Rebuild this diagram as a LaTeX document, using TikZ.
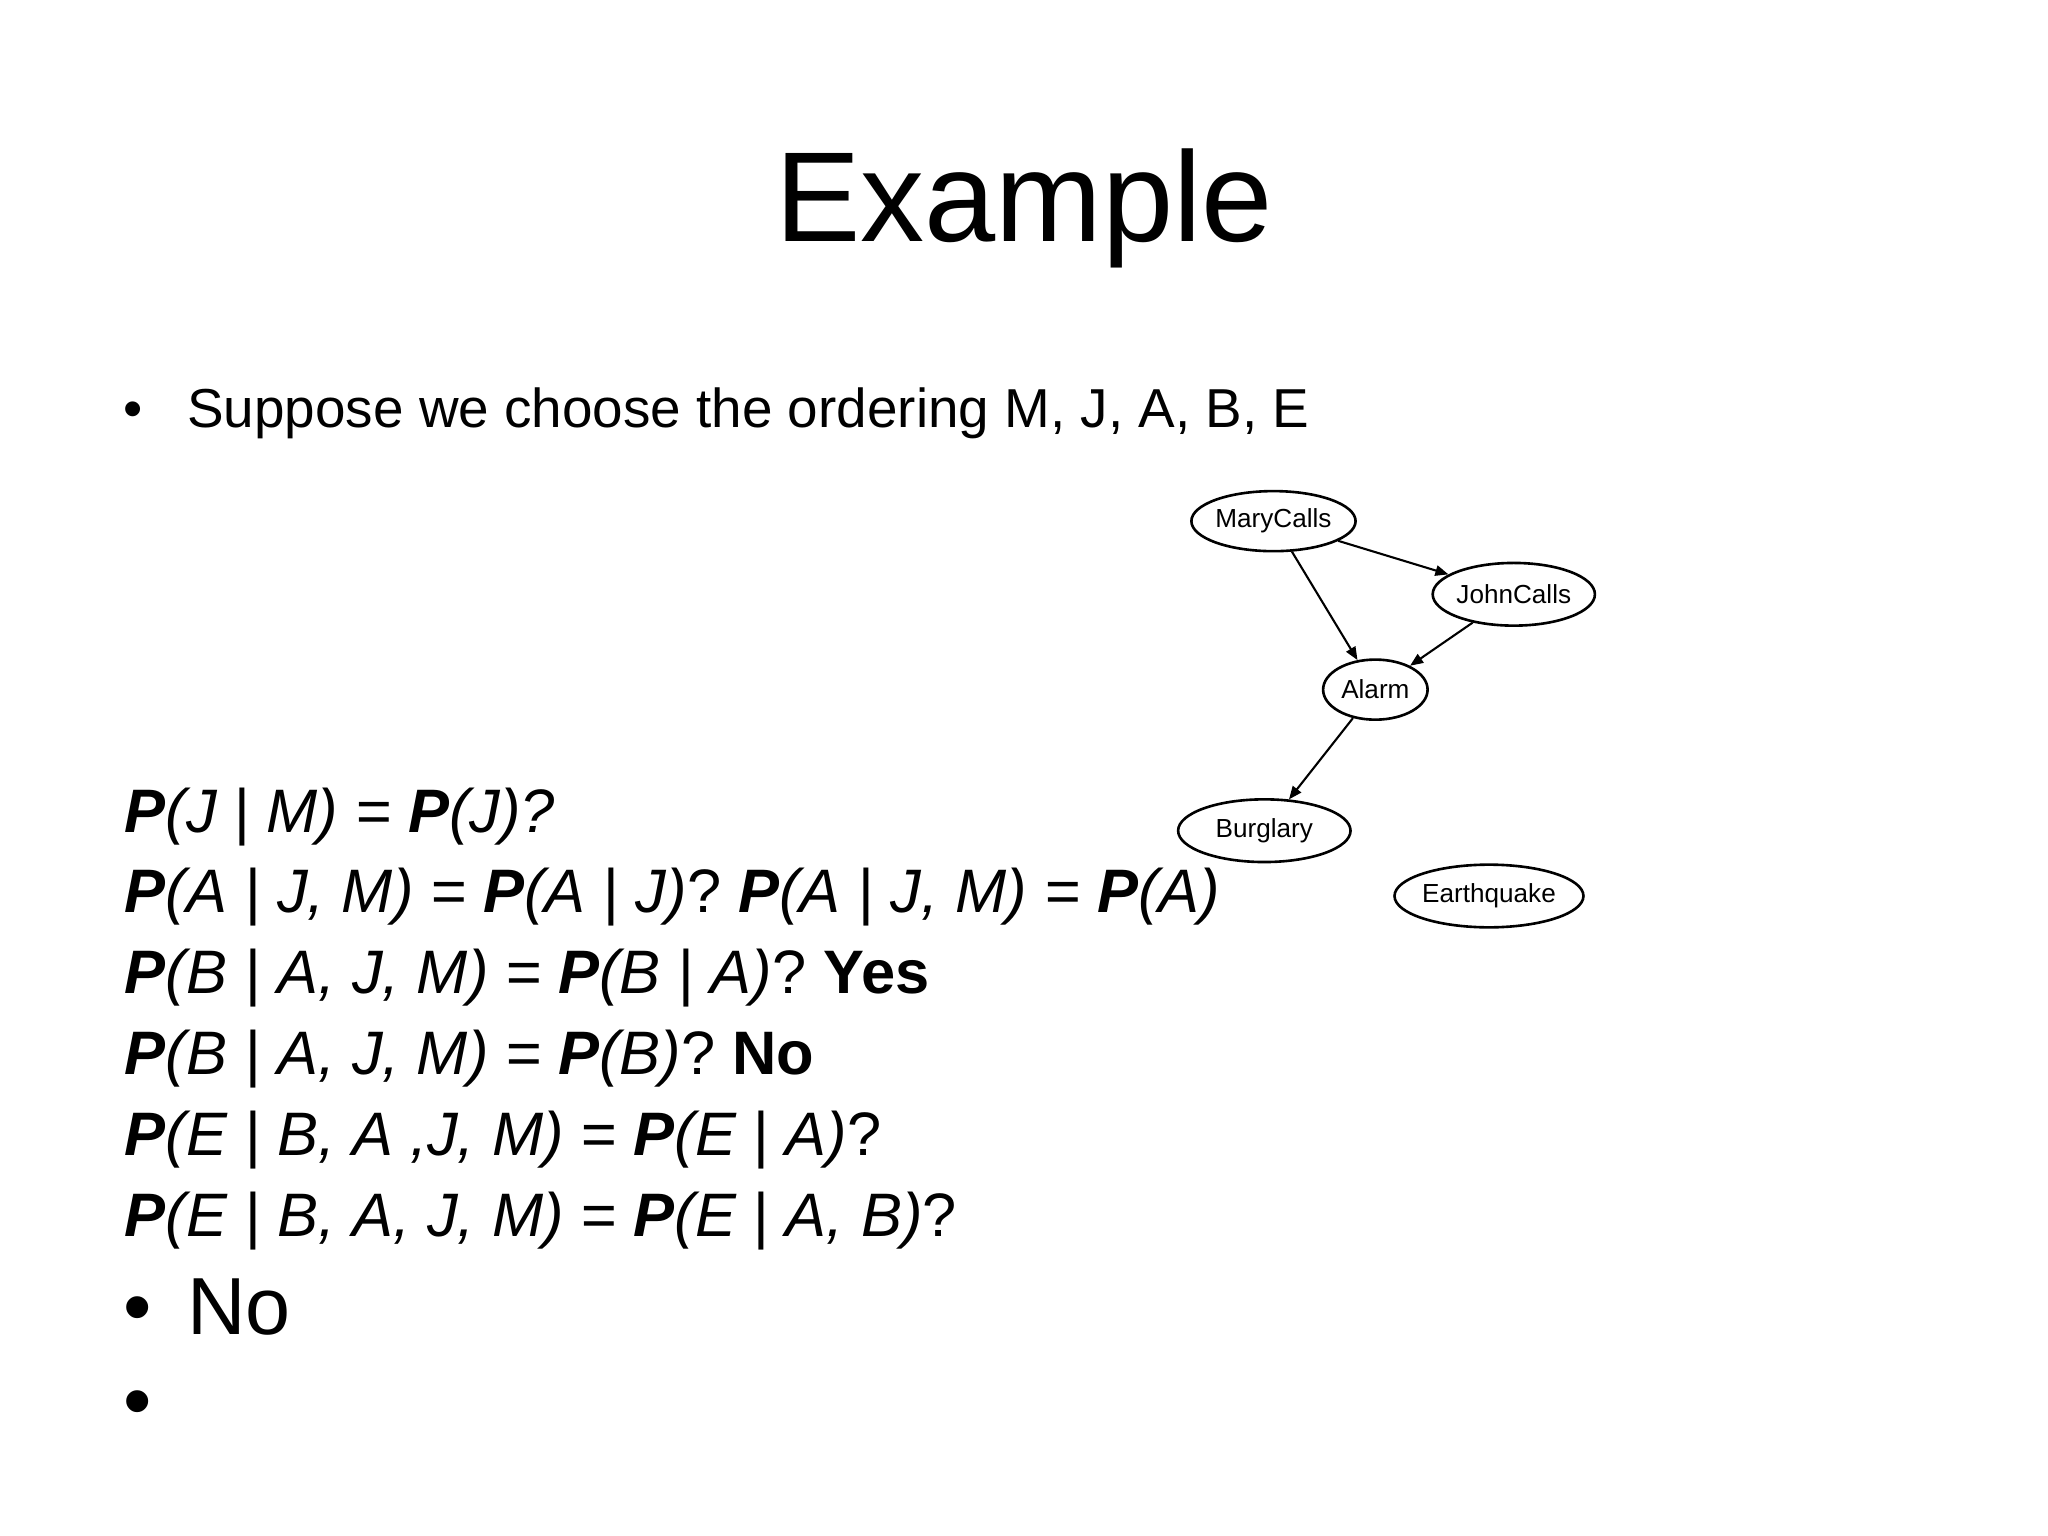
\documentclass[tikz,border=0pt]{standalone}
\usepackage{fontspec}
\setmainfont{Liberation Sans}
\usetikzlibrary{shapes.geometric,arrows.meta}
\begin{document}
\begin{tikzpicture}[x=0.5pt,y=-0.5pt,
  gnode/.style={ellipse,draw,line width=1pt,inner sep=0pt,font=\fontsize{10}{12}\selectfont},
  gedge/.style={line width=0.8pt,-{Triangle[length=5pt,width=4pt]}},
  fline/.style={anchor=base west,inner sep=0pt,font=\fontsize{23.5}{28}\selectfont}]
\useasboundingbox (0,0) rectangle (1568,1176);
\node[anchor=base,inner sep=0pt,font=\fontsize{49}{58}\selectfont] (title) at (784,185) {Example};
\node[anchor=base west,inner sep=0pt,font=\fontsize{21}{25}\selectfont] (b1d) at (94,327) {•};
\node[anchor=base west,inner sep=0pt,font=\fontsize{21}{25}\selectfont] (b1) at (143,327) {Suppose we choose the ordering M, J, A, B, E};
\newcommand{\bP}{\textbf{\textit{P}}}
\node[fline] (l1) at (95,637) {\bP\textit{(J | M) = }\bP\textit{(J)?}};
\node[fline] (l2) at (95,699) {\bP\textit{(A | J, M) = }\bP\textit{(A | J)}? \bP\textit{(A | J, M) = }\bP\textit{(A)}};
\node[fline] (l3) at (95,761) {\bP\textit{(B | A, J, M) = }\bP\textit{(B | A)}? \textbf{Yes}};
\node[fline] (l4) at (95,823) {\bP\textit{(B | A, J, M) = }\bP\textit{(B)}? \textbf{No}};
\node[fline] (l5) at (95,885) {\bP\textit{(E | B, A ,J, M) = }\bP\textit{(E | A)}?};
\node[fline] (l6) at (95,947) {\bP\textit{(E | B, A, J, M) = }\bP\textit{(E | A, B)}?};
\node[anchor=base west,inner sep=0pt,font=\fontsize{31}{36}\selectfont] (b2d) at (94,1022) {•};
\node[anchor=base west,inner sep=0pt,font=\fontsize{31}{36}\selectfont] (b2) at (143,1022) {No};
\node[anchor=base west,inner sep=0pt,font=\fontsize{31}{36}\selectfont] (b3d) at (94,1094) {•};
\node[gnode,minimum width=60pt,minimum height=23pt] (mary) at (975,399) {MaryCalls};
\node[gnode,minimum width=59pt,minimum height=24pt] (john) at (1159,455) {JohnCalls};
\node[gnode,minimum width=40pt,minimum height=23pt] (alarm) at (1053,528) {Alarm};
\node[gnode,minimum width=66pt,minimum height=24pt] (burg) at (968,636) {Burglary};
\node[gnode,minimum width=67pt,minimum height=24pt] (earth) at (1140,686) {Earthquake};
\draw[gedge] (mary) -- (john);
\draw[gedge] (mary) -- (alarm);
\draw[gedge] (john) -- (alarm);
\draw[gedge] (alarm) -- (burg);
\end{tikzpicture}
\end{document}
